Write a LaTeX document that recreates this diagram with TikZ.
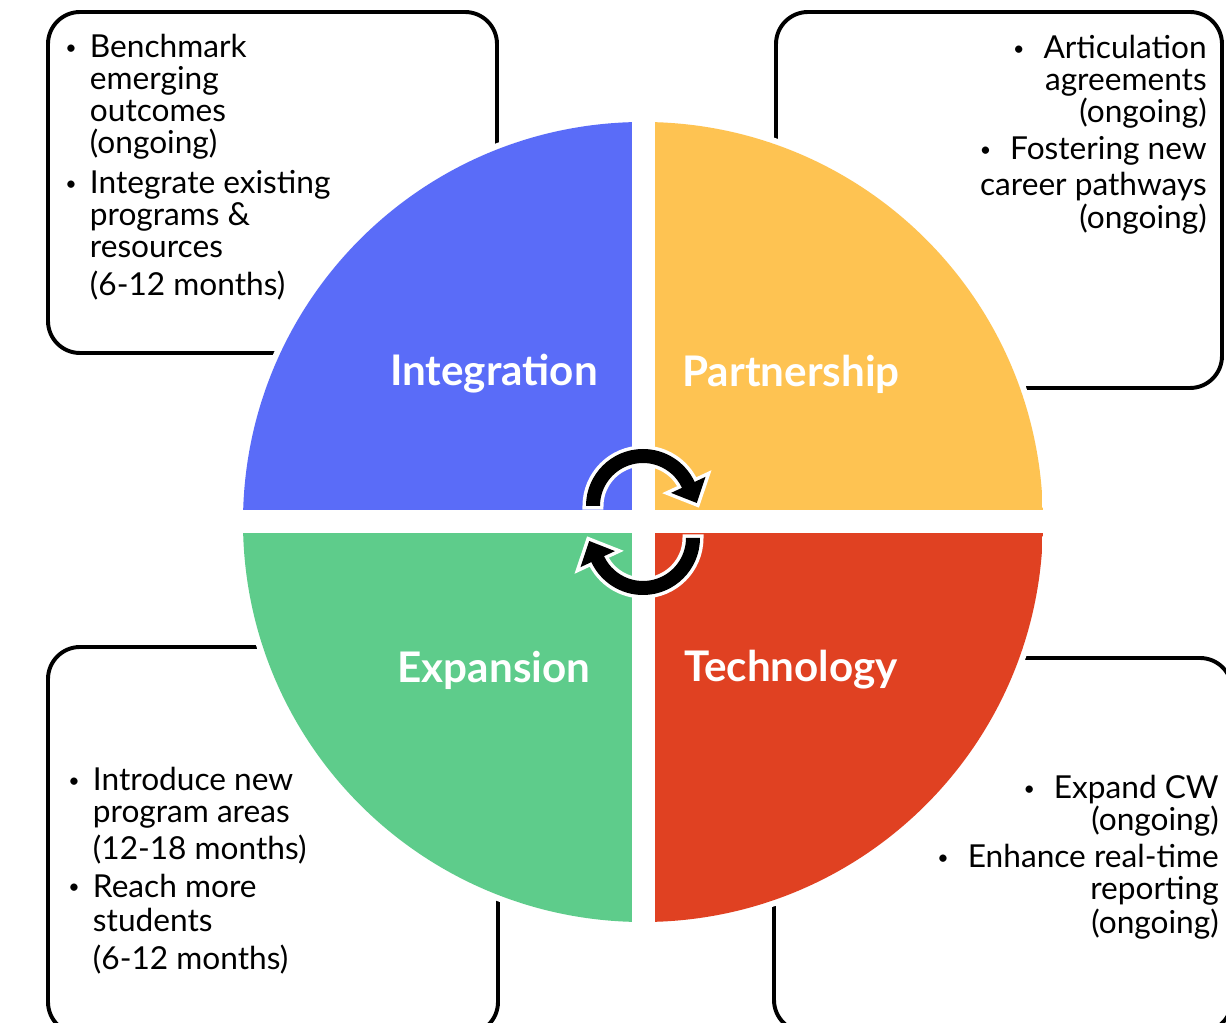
\documentclass[tikz,border=0pt]{standalone}
\usepackage{fontspec}
\setmainfont{Lato}
\usetikzlibrary{calc}

\definecolor{integblue}{RGB}{90,108,248}
\definecolor{partyellow}{RGB}{254,195,82}
\definecolor{expgreen}{RGB}{94,204,139}
\definecolor{techred}{RGB}{224,65,34}

\newcommand{\smallbul}{\raisebox{0.22ex}{\scalebox{0.62}{\textbullet}}}
\newcommand{\bul}{\makebox[0.78em][l]{\smallbul}}
\newcommand{\ind}{\hspace*{0.78em}}

\begin{document}
\begin{tikzpicture}[x=0.025cm,y=0.025cm,
  goalbox/.style={draw=black,line width=2.8pt,rounded corners=0.8cm},
  goaltext/.style={inner sep=0pt,font=\fontsize{22.5}{22.8}\selectfont},
  quadlabel/.style={text=white,inner sep=0pt,font=\fontsize{30}{36}\selectfont\bfseries},
  cyclearrow/.style={fill=black,preaction={draw=white,line width=5pt}}]
\useasboundingbox (0,0) rectangle (1226,1022);

\draw[goalbox] (48,669) rectangle (497,1010);
\draw[goalbox] (776,634) rectangle (1222,1010);
\draw[goalbox] (48,-12) rectangle (498,375);
\draw[goalbox] (774,-10) rectangle (1232,364);

\coordinate (c) at (643,500);
\fill[white] (c) circle (406);
\begin{scope}
\clip (c) circle (400);
\fill[integblue] ($(c)+(-400,11.5)$) rectangle ($(c)+(-11.5,400)$);
\fill[partyellow] ($(c)+(11.5,11.5)$) rectangle ($(c)+(400,400)$);
\fill[expgreen] ($(c)+(-400,-11.5)$) rectangle ($(c)+(-11.5,-400)$);
\fill[techred] ($(c)+(11.5,-11.5)$) rectangle ($(c)+(400,-400)$);
\end{scope}

\node[quadlabel] (integ) at (494,648) {Integration};
\node[quadlabel] (part) at (791,648) {Partnership};
\node[quadlabel] (exp) at (494,352) {Expansion};
\node[quadlabel] (tech) at (791,352) {Technology};

\coordinate (ot) at (643,516);
\path[cyclearrow] ($(ot)+(180:57)$) arc[start angle=180,end angle=25,radius=57]
  -- ($(ot)+(25:69)$) -- ($(ot)+(25:50)+(-65:20)$) -- ($(ot)+(25:31)$)
  -- ($(ot)+(25:43)$) arc[start angle=25,end angle=180,radius=43] -- cycle;

\coordinate (ob) at (643,484);
\path[cyclearrow] ($(ob)+(0:57)$) arc[start angle=0,end angle=-155,radius=57]
  -- ($(ob)+(-155:69)$) -- ($(ob)+(-155:50)+(115:20)$) -- ($(ob)+(-155:31)$)
  -- ($(ob)+(-155:43)$) arc[start angle=-155,end angle=0,radius=43] -- cycle;

\node[goaltext,align=left,anchor=north west] (integtext) at (65,988)
  {\bul Benchmark\\\ind emerging\\\ind outcomes\\\ind (ongoing)\\[5.7pt]
   \bul Integrate existing\\\ind programs \&\\\ind resources\\[3.6pt]\ind (6-12 months)};

\node[goaltext,align=left,anchor=north west] (exptext) at (68,255)
  {\bul Introduce new\\\ind program areas\\[3.5pt]\ind (12-18 months)\\[4pt]
   \bul Reach more\\[1.5pt]\ind students\\[4pt]\ind (6-12 months)};

\node[goaltext,align=right,anchor=north east] (parttext) at (1207,987)
  {\smallbul\hspace{0.6em}Articulation\\agreements\\(ongoing)\\[3.5pt]
   \smallbul\hspace{0.6em}Fostering new\\[3pt]career pathways\\(ongoing)};

\node[goaltext,align=right,anchor=north east] (techtext) at (1219,247)
  {\smallbul\hspace{0.6em}Expand CW\\(ongoing)\\[3.5pt]
   \smallbul\hspace{0.6em}Enhance real-time\\reporting\\[1.5pt](ongoing)};
\end{tikzpicture}
\end{document}
